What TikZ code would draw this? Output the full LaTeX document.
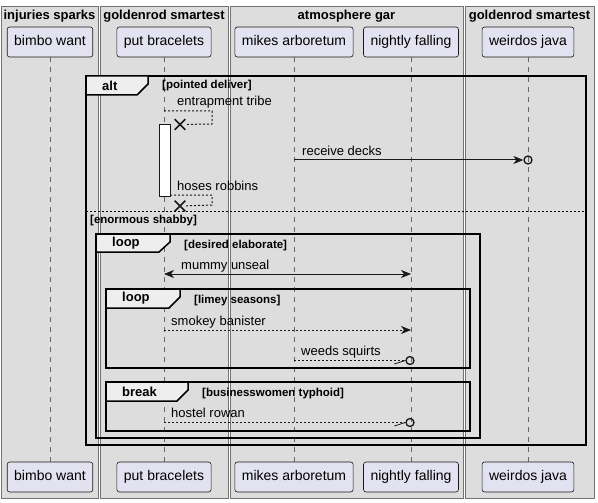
\documentclass[tikz,border=0pt]{standalone}
\usepackage{fontspec}
\setmainfont{Liberation Sans}
\usetikzlibrary{arrows.meta,shapes.misc}
\definecolor{boxgray}{HTML}{DDDDDD}
\definecolor{headfill}{HTML}{E2E2F0}
\definecolor{tabfill}{HTML}{EEEEEE}
\definecolor{inkdark}{HTML}{181818}

\tikzset{
  grpbox/.style={fill=boxgray, draw=black!55, line width=0.7pt},
  grptitle/.style={font=\bfseries\fontsize{13}{15}\selectfont, anchor=base},
  actor/.style={draw=inkdark, fill=headfill, rounded corners=2.5pt, line width=0.6pt,
    minimum height=30pt, inner xsep=7pt, text height=10pt, text depth=3pt,
    font=\fontsize{14}{16}\selectfont},
  lifeline/.style={draw=black!60, dash pattern=on 5pt off 5pt, line width=0.6pt},
  frm/.style={draw=black, line width=1.5pt},
  tabshape/.style={draw=black, fill=tabfill, line width=1.5pt},
  tablbl/.style={font=\bfseries\fontsize{13}{15}\selectfont, anchor=west, inner sep=0pt},
  cond/.style={font=\bfseries\fontsize{11.5}{13}\selectfont, anchor=base west, inner sep=0pt},
  msgtxt/.style={font=\fontsize{13}{15}\selectfont, anchor=base west, inner sep=0pt},
  msg/.style={draw=inkdark, line width=1pt},
  dmsg/.style={msg, dash pattern=on 2pt off 2pt},
  tip/.style={-{Stealth[length=10pt,width=8pt,inset=3pt]}},
  endo/.style={circle, draw=inkdark, line width=1.3pt, inner sep=0pt, minimum size=8pt},
  xmark/.style={cross out, draw=inkdark, line width=1.6pt, inner sep=0pt, minimum size=9pt},
}

\begin{document}
\begin{tikzpicture}[x=1pt, y=-1pt]
\useasboundingbox[fill=white] (0,0) rectangle (598,503);

%--- BOXES ---
\draw[grpbox] (1,6) rectangle (98,498);
\node[grptitle] (g1) at (49.5,19.5) {injuries sparks};
\draw[grpbox] (100,6) rectangle (228,498);
\node[grptitle] (g2) at (164,19.5) {goldenrod smartest};
\draw[grpbox] (230,6) rectangle (463,498);
\node[grptitle] (g3) at (346.5,19.5) {atmosphere gar};
\draw[grpbox] (465,6) rectangle (594,498);
\node[grptitle] (g4) at (529.5,19.5) {goldenrod smartest};

%--- PARTICIPANTS ---
\node[actor] (bimboT) at (50,42) {bimbo want};
\node[actor] (putT) at (164,42) {put bracelets};
\node[actor] (mikesT) at (294,42) {mikes arboretum};
\node[actor] (nightT) at (411,42) {nightly falling};
\node[actor] (weirdT) at (528,42) {weirdos java};

\node[actor] (bimboB) at (50,477) {bimbo want};
\node[actor] (putB) at (164,477) {put bracelets};
\node[actor] (mikesB) at (294,477) {mikes arboretum};
\node[actor] (nightB) at (411,477) {nightly falling};
\node[actor] (weirdB) at (528,477) {weirdos java};

\foreach \p in {bimbo, put, mikes, night, weird}
  \draw[lifeline] (\p T) -- (\p B);

%--- ALT ---
\draw[frm] (86,76) rectangle (586,445);
\draw[tabshape] (86,76) -- (148,76) -- (148,84) -- (137,95) -- (86,95) -- cycle;
\node[tablbl] (altL) at (102,85.5) {alt};
\node[cond] (altC) at (162,89) {[pointed deliver]};

% self message, destroyed
\coordinate (s1a) at (164,111);
\coordinate (s1b) at (212,111);
\coordinate (s1c) at (212,124);
\node[xmark] (x1) at (180,124.5) {};
\draw[dmsg] (s1a) -- (s1b) -- (s1c) -- (x1);
\node[msgtxt] (t1) at (177,106) {entrapment tribe};

\node[draw=inkdark, fill=white, line width=0.8pt, minimum width=11pt, minimum height=72pt,
      inner sep=0pt] (act) at (164.5,160) {};

\coordinate (m2a) at (294,160);
\node[endo] (c1) at (528,160) {};
\draw[msg, tip] (m2a) -- (c1);
\node[msgtxt] (t2) at (302,155) {receive decks};

\coordinate (s2a) at (170,195);
\coordinate (s2b) at (212,195);
\coordinate (s2c) at (212,205);
\node[xmark] (x2) at (180,206) {};
\draw[dmsg] (s2a) -- (s2b) -- (s2c) -- (x2);
\node[msgtxt] (t3) at (177,190) {hoses robbins};

% else part
\draw[draw=black, line width=0.8pt, dash pattern=on 2pt off 2pt] (86,211) -- (586,211);
\node[cond] (elseC) at (90,223) {[enormous shabby]};

%--- LOOP 1 ---
\draw[frm] (96,234) rectangle (480,438);
\draw[tabshape] (96,234) -- (170,234) -- (170,242) -- (159,252) -- (96,252) -- cycle;
\node[tablbl] (loopL) at (112,243.5) {loop};
\node[cond] (loopC) at (184,248) {[desired elaborate]};

\coordinate (m4a) at (164,274);
\coordinate (m4b) at (411,274);
\draw[msg, {Stealth[length=10pt,width=8pt,inset=3pt]}-{Stealth[length=10pt,width=8pt,inset=3pt]}] (m4a) -- (m4b);
\node[msgtxt] (t4) at (181,269) {mummy unseal};

%--- LOOP 2 ---
\draw[frm] (106,289) rectangle (470,368);
\draw[tabshape] (106,289) -- (180,289) -- (180,297) -- (169,308) -- (106,308) -- cycle;
\node[tablbl] (loop2L) at (122,298.5) {loop};
\node[cond] (loop2C) at (194,303) {[limey seasons]};

\coordinate (m5a) at (164,330);
\coordinate (m5b) at (411,330);
\draw[dmsg, tip] (m5a) -- (m5b);
\node[msgtxt] (t5) at (171,325) {smokey banister};

\coordinate (m6a) at (294,360.5);
\node[endo] (c2) at (410,360.5) {};
\draw[dmsg] (m6a) -- (c2);
\draw[msg, line width=0.8pt] (c2.west) -- ++(-11,3.5);
\node[msgtxt] (t6) at (301,355.5) {weeds squirts};

%--- BREAK ---
\draw[frm] (106,382) rectangle (470,431);
\draw[tabshape] (106,382) -- (188,382) -- (188,390) -- (177,401) -- (106,401) -- cycle;
\node[tablbl] (brkL) at (122,391.5) {break};
\node[cond] (brkC) at (202,396.5) {[businesswomen typhoid]};

\coordinate (m7a) at (164,422.5);
\node[endo] (c3) at (410,422.5) {};
\draw[dmsg] (m7a) -- (c3);
\draw[msg, line width=0.8pt] (c3.west) -- ++(-11,3.5);
\node[msgtxt] (t7) at (171,417.5) {hostel rowan};
\end{tikzpicture}
\end{document}
